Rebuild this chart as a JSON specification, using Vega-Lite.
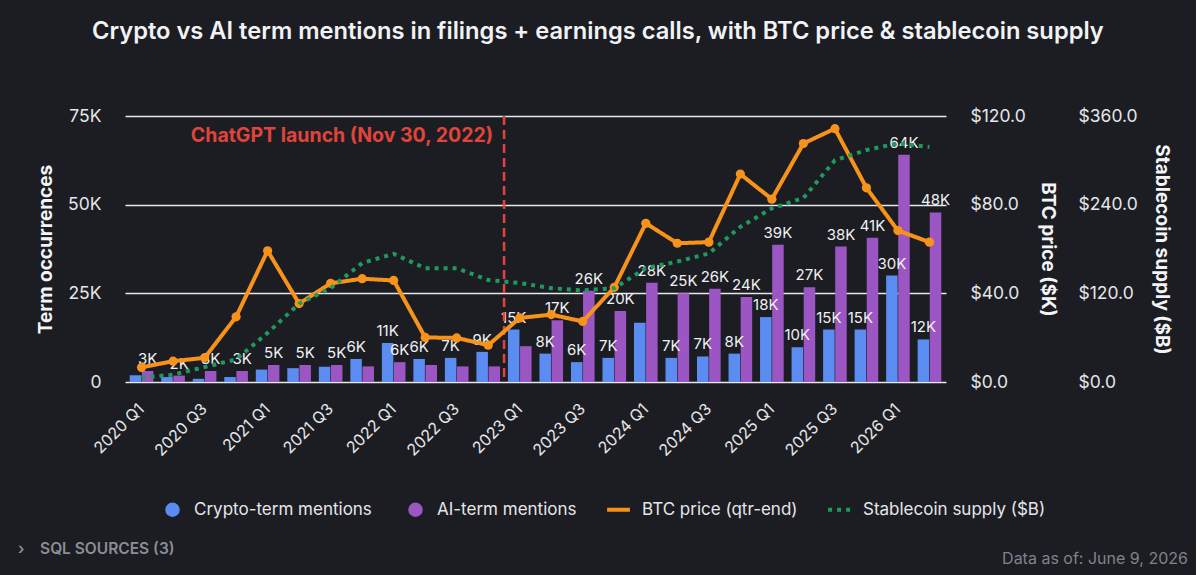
{
  "$schema": "https://vega.github.io/schema/vega-lite/v6.json",
  "background": "#1b1d23",
  "padding": {"left": 18, "top": 20, "right": 8, "bottom": 30},
  "title": {
    "text": "Crypto vs AI term mentions in filings + earnings calls, with BTC price & stablecoin supply",
    "anchor": "start",
    "dx": 74,
    "offset": 63,
    "font": "Inter",
    "fontSize": 23.7,
    "fontWeight": 600,
    "color": "#f2f2f4"
  },
  "datasets": {
    "mentions": [
      {"q": "2020 Q1", "kind": "Crypto-term mentions", "value": 1900, "label": ""},
      {"q": "2020 Q1", "kind": "AI-term mentions", "value": 3100, "label": "3K"},
      {"q": "2020 Q2", "kind": "Crypto-term mentions", "value": 1400, "label": ""},
      {"q": "2020 Q2", "kind": "AI-term mentions", "value": 1800, "label": "2K"},
      {"q": "2020 Q3", "kind": "Crypto-term mentions", "value": 900, "label": ""},
      {"q": "2020 Q3", "kind": "AI-term mentions", "value": 3100, "label": "3K"},
      {"q": "2020 Q4", "kind": "Crypto-term mentions", "value": 1400, "label": ""},
      {"q": "2020 Q4", "kind": "AI-term mentions", "value": 3100, "label": "3K"},
      {"q": "2021 Q1", "kind": "Crypto-term mentions", "value": 3500, "label": ""},
      {"q": "2021 Q1", "kind": "AI-term mentions", "value": 4800, "label": "5K"},
      {"q": "2021 Q2", "kind": "Crypto-term mentions", "value": 3900, "label": ""},
      {"q": "2021 Q2", "kind": "AI-term mentions", "value": 4800, "label": "5K"},
      {"q": "2021 Q3", "kind": "Crypto-term mentions", "value": 4300, "label": ""},
      {"q": "2021 Q3", "kind": "AI-term mentions", "value": 4800, "label": "5K"},
      {"q": "2021 Q4", "kind": "Crypto-term mentions", "value": 6500, "label": "6K"},
      {"q": "2021 Q4", "kind": "AI-term mentions", "value": 4400, "label": ""},
      {"q": "2022 Q1", "kind": "Crypto-term mentions", "value": 11000, "label": "11K"},
      {"q": "2022 Q1", "kind": "AI-term mentions", "value": 5600, "label": "6K"},
      {"q": "2022 Q2", "kind": "Crypto-term mentions", "value": 6500, "label": "6K"},
      {"q": "2022 Q2", "kind": "AI-term mentions", "value": 4800, "label": ""},
      {"q": "2022 Q3", "kind": "Crypto-term mentions", "value": 6800, "label": "7K"},
      {"q": "2022 Q3", "kind": "AI-term mentions", "value": 4400, "label": ""},
      {"q": "2022 Q4", "kind": "Crypto-term mentions", "value": 8500, "label": "9K"},
      {"q": "2022 Q4", "kind": "AI-term mentions", "value": 4400, "label": ""},
      {"q": "2023 Q1", "kind": "Crypto-term mentions", "value": 14800, "label": "15K"},
      {"q": "2023 Q1", "kind": "AI-term mentions", "value": 10100, "label": ""},
      {"q": "2023 Q2", "kind": "Crypto-term mentions", "value": 8000, "label": "8K"},
      {"q": "2023 Q2", "kind": "AI-term mentions", "value": 17400, "label": "17K"},
      {"q": "2023 Q3", "kind": "Crypto-term mentions", "value": 5600, "label": "6K"},
      {"q": "2023 Q3", "kind": "AI-term mentions", "value": 25700, "label": "26K"},
      {"q": "2023 Q4", "kind": "Crypto-term mentions", "value": 6800, "label": "7K"},
      {"q": "2023 Q4", "kind": "AI-term mentions", "value": 20000, "label": "20K"},
      {"q": "2024 Q1", "kind": "Crypto-term mentions", "value": 16700, "label": ""},
      {"q": "2024 Q1", "kind": "AI-term mentions", "value": 28000, "label": "28K"},
      {"q": "2024 Q2", "kind": "Crypto-term mentions", "value": 6800, "label": "7K"},
      {"q": "2024 Q2", "kind": "AI-term mentions", "value": 25000, "label": "25K"},
      {"q": "2024 Q3", "kind": "Crypto-term mentions", "value": 7200, "label": "7K"},
      {"q": "2024 Q3", "kind": "AI-term mentions", "value": 26300, "label": "26K"},
      {"q": "2024 Q4", "kind": "Crypto-term mentions", "value": 8000, "label": "8K"},
      {"q": "2024 Q4", "kind": "AI-term mentions", "value": 24000, "label": "24K"},
      {"q": "2025 Q1", "kind": "Crypto-term mentions", "value": 18300, "label": "18K"},
      {"q": "2025 Q1", "kind": "AI-term mentions", "value": 38700, "label": "39K"},
      {"q": "2025 Q2", "kind": "Crypto-term mentions", "value": 9800, "label": "10K"},
      {"q": "2025 Q2", "kind": "AI-term mentions", "value": 26700, "label": "27K"},
      {"q": "2025 Q3", "kind": "Crypto-term mentions", "value": 14800, "label": "15K"},
      {"q": "2025 Q3", "kind": "AI-term mentions", "value": 38200, "label": "38K"},
      {"q": "2025 Q4", "kind": "Crypto-term mentions", "value": 14800, "label": "15K"},
      {"q": "2025 Q4", "kind": "AI-term mentions", "value": 40700, "label": "41K"},
      {"q": "2026 Q1", "kind": "Crypto-term mentions", "value": 30000, "label": "30K"},
      {"q": "2026 Q1", "kind": "AI-term mentions", "value": 64100, "label": "64K"},
      {"q": "2026 Q2", "kind": "Crypto-term mentions", "value": 12000, "label": "12K"},
      {"q": "2026 Q2", "kind": "AI-term mentions", "value": 47800, "label": "48K"}
    ],
    "prices": [
      {"q": "2020 Q1", "btc": 6.6, "stable": 5.8},
      {"q": "2020 Q2", "btc": 9.4, "stable": 9.9},
      {"q": "2020 Q3", "btc": 10.9, "stable": 20.2},
      {"q": "2020 Q4", "btc": 29.4, "stable": 30.6},
      {"q": "2021 Q1", "btc": 59.2, "stable": 66.5},
      {"q": "2021 Q2", "btc": 35.4, "stable": 106},
      {"q": "2021 Q3", "btc": 44.5, "stable": 127},
      {"q": "2021 Q4", "btc": 46.6, "stable": 161},
      {"q": "2022 Q1", "btc": 45.8, "stable": 173.5},
      {"q": "2022 Q2", "btc": 20.1, "stable": 154},
      {"q": "2022 Q3", "btc": 19.9, "stable": 154},
      {"q": "2022 Q4", "btc": 16.6, "stable": 138},
      {"q": "2023 Q1", "btc": 28.9, "stable": 134},
      {"q": "2023 Q2", "btc": 30.4, "stable": 127},
      {"q": "2023 Q3", "btc": 27.3, "stable": 124},
      {"q": "2023 Q4", "btc": 42.7, "stable": 127},
      {"q": "2024 Q1", "btc": 71.6, "stable": 154},
      {"q": "2024 Q2", "btc": 62.6, "stable": 163},
      {"q": "2024 Q3", "btc": 63.1, "stable": 174},
      {"q": "2024 Q4", "btc": 93.8, "stable": 210},
      {"q": "2025 Q1", "btc": 82.5, "stable": 235},
      {"q": "2025 Q2", "btc": 107.6, "stable": 249},
      {"q": "2025 Q3", "btc": 114.3, "stable": 300},
      {"q": "2025 Q4", "btc": 87.6, "stable": 314},
      {"q": "2026 Q1", "btc": 68.3, "stable": 323},
      {"q": "2026 Q2", "btc": 63.1, "stable": 318}
    ],
    "events": [
      {"q": "2022 Q4", "event": "ChatGPT launch (Nov 30, 2022)"}
    ],
    "footer": [
      {"side": "left", "text": "›\u00a0\u00a0\u00a0\u00a0SQL SOURCES (3)"},
      {"side": "right", "text": "Data as of: June 9, 2026"}
    ]
  },
  "vconcat": [
    {
      "width": 821,
      "height": 266,
      "encoding": {
        "x": {
          "field": "q",
          "type": "ordinal",
          "scale": {"paddingInner": 0.25, "paddingOuter": 0.15},
          "axis": {
            "title": null,
            "values": ["2020 Q1", "2020 Q3", "2021 Q1", "2021 Q3", "2022 Q1", "2022 Q3", "2023 Q1", "2023 Q3", "2024 Q1", "2024 Q3", "2025 Q1", "2025 Q3", "2026 Q1"],
            "labelAngle": -45,
            "labelAlign": "right",
            "labelBaseline": "middle",
            "labelPadding": 24,
            "labelFontSize": 16
          }
        }
      },
      "layer": [
        {
          "layer": [
            {
              "data": {"name": "mentions"},
              "mark": {"type": "bar"},
              "encoding": {
                "xOffset": {"field": "kind", "type": "nominal", "sort": ["Crypto-term mentions", "AI-term mentions"], "scale": {"paddingInner": 0.05}},
                "y": {
                  "field": "value",
                  "type": "quantitative",
                  "scale": {"domain": [0, 75000], "nice": false},
                  "axis": {
                    "title": "Term occurrences",
                    "values": [0, 25000, 50000, 75000],
                    "labelExpr": "datum.value == 0 ? '0' : (datum.value / 1000) + 'K'",
                    "grid": true,
                    "labelPadding": 24,
                    "titlePadding": 12
                  }
                },
                "color": {
                  "field": "kind",
                  "type": "nominal",
                  "scale": {"domain": ["Crypto-term mentions", "AI-term mentions"], "range": ["#5b8cf1", "#9b56c3"]},
                  "legend": {
                    "title": null,
                    "orient": "none",
                    "legendX": 39,
                    "legendY": 385,
                    "direction": "horizontal",
                    "symbolType": "circle",
                    "symbolSize": 210,
                    "labelOffset": 13,
                    "columnPadding": 35
                  }
                }
              }
            },
            {
              "data": {"name": "mentions"},
              "mark": {"type": "text", "baseline": "bottom", "dy": -4, "fontSize": 15, "font": "Inter", "color": "#f0f0f2"},
              "encoding": {
                "xOffset": {"field": "kind", "type": "nominal", "sort": ["Crypto-term mentions", "AI-term mentions"]},
                "y": {"field": "value", "type": "quantitative"},
                "text": {"field": "label"}
              }
            },
            {
              "data": {"name": "events"},
              "mark": {"type": "rule", "color": "#e0443a", "strokeWidth": 2.5, "strokeDash": [9, 5]},
              "encoding": {
                "x": {"field": "q", "type": "ordinal", "bandPosition": 1.17, "title": null}
              }
            },
            {
              "data": {"name": "events"},
              "mark": {"type": "text", "align": "right", "baseline": "middle", "dx": -11, "fontSize": 19.5, "fontWeight": "bold", "font": "Inter", "color": "#e0443a"},
              "encoding": {
                "x": {"field": "q", "type": "ordinal", "bandPosition": 1.17, "title": null},
                "y": {"datum": 69500, "type": "quantitative"},
                "text": {"field": "event"}
              }
            }
          ]
        },
        {
          "data": {"name": "prices"},
          "transform": [{"fold": ["btc"], "as": ["series", "val"]}],
          "layer": [
            {
              "mark": {"type": "line", "strokeWidth": 4, "strokeCap": "round", "strokeJoin": "round"},
              "encoding": {
                "y": {
                  "field": "val",
                  "type": "quantitative",
                  "scale": {"domain": [0, 120], "nice": false},
                  "axis": {"title": "BTC price ($K)", "orient": "right", "values": [0, 40, 80, 120], "format": "$.1f", "labelPadding": 24, "titlePadding": 12}
                },
                "stroke": {
                  "field": "series",
                  "type": "nominal",
                  "scale": {"domain": ["btc", "stable"], "range": ["#f7931a", "#1f9a5f"]},
                  "legend": {
                    "title": null,
                    "orient": "none",
                    "legendX": 480,
                    "legendY": 380,
                    "direction": "horizontal",
                    "symbolType": "stroke",
                    "symbolStrokeWidth": 4,
                    "symbolSize": 520,
                    "labelOffset": 10,
                    "columnPadding": 22,
                    "labelExpr": "datum.value == 'btc' ? 'BTC price (qtr-end)' : 'Stablecoin supply ($B)'"
                  }
                },
                "strokeDash": {
                  "field": "series",
                  "type": "nominal",
                  "scale": {"domain": ["btc", "stable"], "range": [[1, 0], [4, 5]]},
                  "legend": {
                    "title": null,
                    "orient": "none",
                    "legendX": 480,
                    "legendY": 380,
                    "direction": "horizontal",
                    "symbolType": "stroke",
                    "symbolStrokeWidth": 4,
                    "symbolSize": 520,
                    "labelOffset": 10,
                    "columnPadding": 22,
                    "labelExpr": "datum.value == 'btc' ? 'BTC price (qtr-end)' : 'Stablecoin supply ($B)'"
                  }
                }
              }
            },
            {
              "mark": {"type": "point", "filled": true, "size": 85, "opacity": 1, "color": "#f7931a"},
              "encoding": {
                "y": {"field": "val", "type": "quantitative"}
              }
            }
          ]
        },
        {
          "data": {"name": "prices"},
          "transform": [{"fold": ["stable"], "as": ["series", "val"]}],
          "mark": {"type": "line", "strokeWidth": 4, "strokeCap": "butt"},
          "encoding": {
            "y": {
              "field": "val",
              "type": "quantitative",
              "scale": {"domain": [0, 360], "nice": false},
              "axis": {"title": "Stablecoin supply ($B)", "orient": "right", "offset": 108, "values": [0, 120, 240, 360], "format": "$.1f", "labelPadding": 24, "titlePadding": 14}
            },
            "stroke": {"field": "series", "type": "nominal"},
            "strokeDash": {"field": "series", "type": "nominal"}
          }
        }
      ],
      "resolve": {"scale": {"y": "independent"}}
    },
    {
      "width": 1063,
      "height": 20,
      "data": {"name": "footer"},
      "layer": [
        {
          "transform": [{"filter": "datum.side == 'left'"}],
          "mark": {"type": "text", "align": "left", "dx": -107, "fontSize": 15.5, "fontWeight": 600, "font": "Inter", "color": "#8a8e97"},
          "encoding": {
            "x": {"field": "side", "type": "nominal", "scale": {"domain": ["left", "right"], "padding": 0}, "axis": null},
            "text": {"field": "text"}
          }
        },
        {
          "transform": [{"filter": "datum.side == 'right'"}],
          "mark": {"type": "text", "align": "right", "dy": 10, "fontSize": 16, "font": "Inter", "color": "#7f838c"},
          "encoding": {
            "x": {"field": "side", "type": "nominal", "axis": null},
            "text": {"field": "text"}
          }
        }
      ]
    }
  ],
  "spacing": 21,
  "resolve": {
    "scale": {"color": "independent", "stroke": "independent", "strokeDash": "independent"},
    "legend": {"color": "independent", "stroke": "independent", "strokeDash": "independent"}
  },
  "config": {
    "font": "Inter",
    "view": {"stroke": null},
    "axis": {
      "labelFont": "Inter",
      "labelFontSize": 17.5,
      "labelColor": "#e6e6e8",
      "titleFont": "Inter",
      "titleFontSize": 19,
      "titleFontWeight": "bold",
      "titleColor": "#f4f4f6",
      "domain": false,
      "ticks": false,
      "grid": false,
      "gridColor": "#e8e8ea",
      "gridWidth": 1.3,
      "gridOpacity": 1
    },
    "legend": {
      "labelFont": "Inter",
      "labelFontSize": 17,
      "labelColor": "#e6e6e8",
      "padding": 0,
      "labelLimit": 300
    }
  }
}
